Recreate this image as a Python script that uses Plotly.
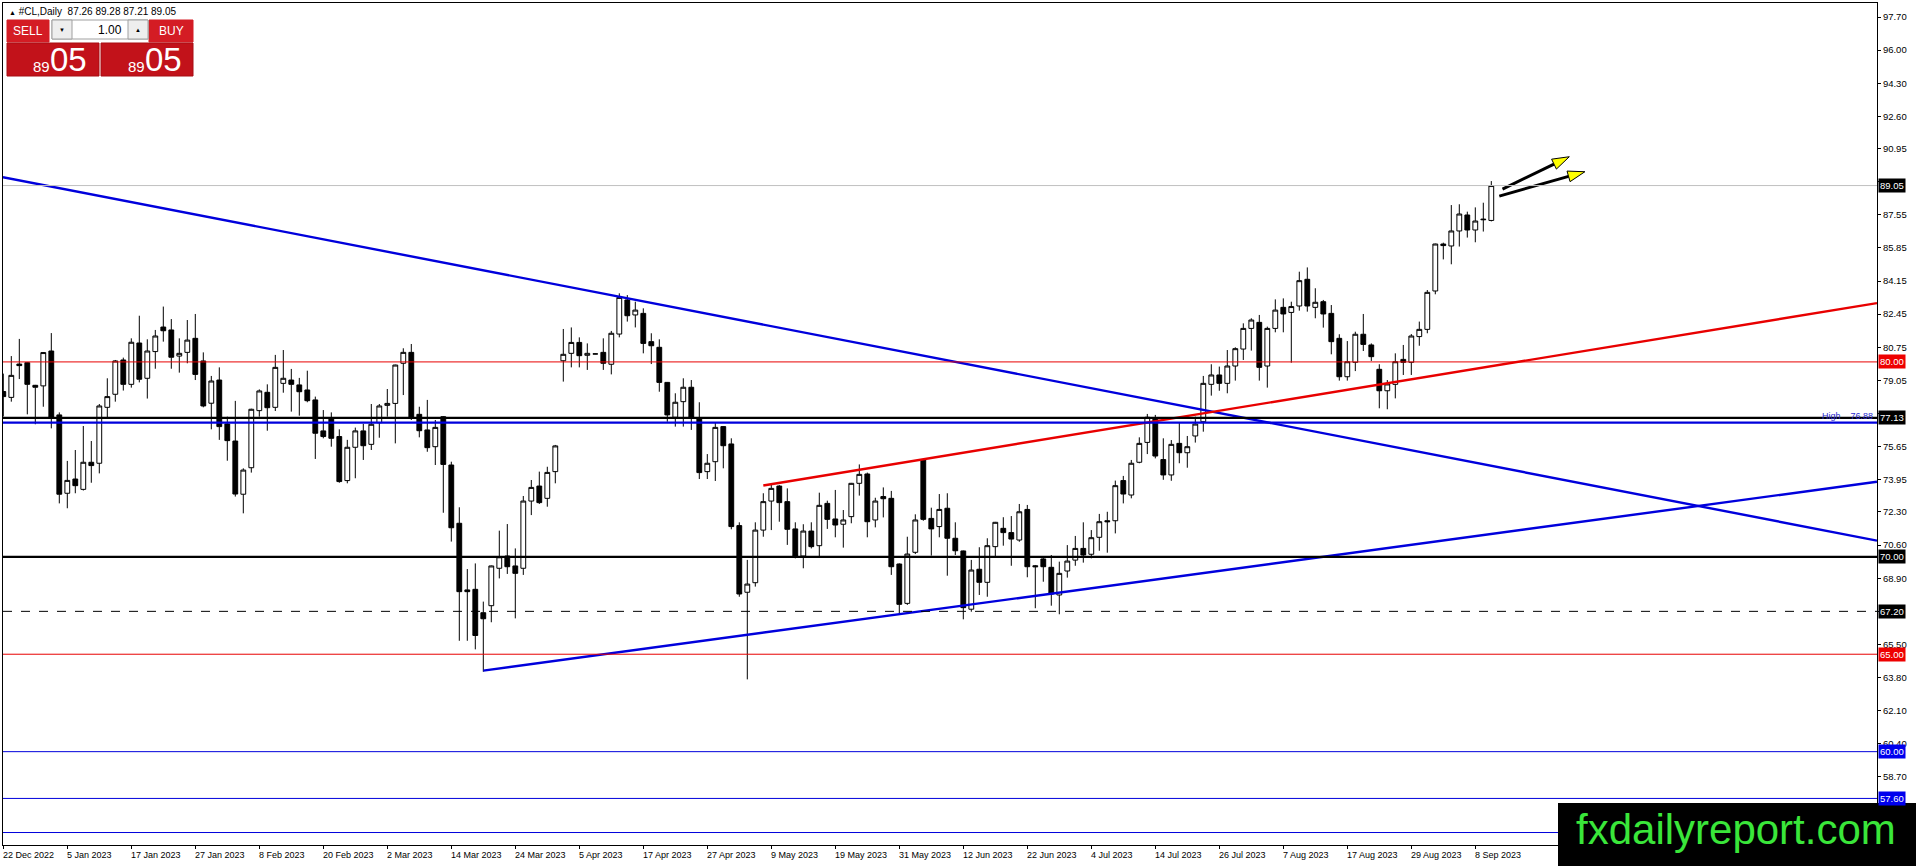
import math
import plotly.graph_objects as go

# ---------------- data ----------------
bar_index = list(range(187))

open_ = [78.48, 78.18, 79.89, 79.96, 78.80, 78.77, 80.56, 77.28, 73.26, 73.99,
         73.46, 74.85, 74.80, 77.67, 78.34, 80.10, 78.85, 80.97, 79.16, 80.53,
         81.79, 81.64, 80.30, 80.49, 81.21, 80.05, 77.88, 79.07, 76.82, 75.94,
         73.21, 74.57, 77.50, 78.44, 77.67, 78.90, 79.07, 78.82, 78.56, 78.05,
         76.46, 77.10, 76.17, 73.91, 75.62, 76.46, 75.77, 76.88, 77.77, 77.87,
         79.93, 80.49, 77.31, 76.51, 75.65, 77.19, 74.71, 71.72, 68.30, 68.33,
         67.13, 67.49, 69.41, 70.04, 69.53, 69.41, 72.86, 73.63, 73.00, 74.37,
         80.06, 80.44, 81.00, 80.34, 80.41, 80.49, 79.88, 81.43, 83.18, 82.41,
         82.49, 81.04, 80.75, 78.95, 77.16, 77.96, 78.70, 77.10, 74.37, 74.88,
         76.68, 75.79, 71.60, 68.18, 68.67, 71.37, 72.86, 73.63, 72.83, 71.43,
         70.04, 71.32, 70.57, 72.74, 71.94, 71.67, 72.06, 73.77, 74.25, 71.89,
         73.09, 73.00, 69.63, 67.61, 70.23, 74.97, 71.97, 71.55, 72.49, 70.95,
         70.30, 67.31, 69.36, 68.69, 70.52, 71.46, 71.24, 70.86, 72.43, 69.54,
         69.89, 69.46, 68.04, 69.27, 69.83, 70.43, 70.13, 71.00, 71.85, 71.85,
         73.91, 73.17, 74.85, 75.87, 77.07, 74.99, 74.20, 75.82, 75.34, 76.20,
         76.93, 78.85, 79.33, 78.90, 79.79, 80.66, 81.72, 82.03, 79.79, 81.72,
         82.80, 82.54, 82.87, 84.24, 82.80, 83.09, 82.49, 81.21, 79.24, 79.98,
         81.42, 80.87, 79.62, 78.52, 78.85, 80.13, 79.98, 81.30, 81.67, 83.64,
         86.05, 85.95, 86.72, 87.54, 86.77, 87.33, 87.26]

high = [79.40, 80.30, 81.18, 79.98, 78.82, 80.50, 81.48, 77.41, 74.92, 75.48,
        76.71, 75.94, 77.84, 79.16, 80.10, 80.22, 81.21, 82.37, 81.16, 81.64,
        82.84, 82.20, 81.21, 82.15, 82.46, 80.49, 79.28, 79.72, 77.19, 78.00,
        74.54, 77.60, 78.59, 78.85, 80.36, 80.61, 79.64, 79.18, 79.55, 78.22,
        77.53, 77.41, 76.54, 76.00, 76.63, 76.82, 77.84, 77.84, 78.61, 79.86,
        80.70, 80.92, 77.70, 78.05, 77.02, 77.22, 74.88, 72.54, 69.37, 69.66,
        67.70, 69.55, 71.34, 71.68, 70.43, 73.12, 73.94, 74.37, 74.62, 75.74,
        81.69, 81.77, 81.26, 80.95, 80.42, 81.21, 81.59, 83.52, 83.43, 83.09,
        82.75, 81.47, 81.16, 78.97, 78.39, 79.16, 79.07, 77.93, 75.27, 76.88,
        76.70, 76.08, 71.77, 69.84, 71.77, 73.26, 73.77, 73.68, 73.51, 71.77,
        71.67, 71.77, 73.29, 72.88, 73.43, 72.40, 73.79, 74.74, 74.32, 73.03,
        73.56, 73.38, 69.66, 71.03, 72.18, 75.00, 72.52, 73.22, 73.26, 71.77,
        70.32, 69.84, 70.49, 70.95, 71.79, 72.03, 72.09, 72.71, 72.66, 69.58,
        70.01, 70.09, 69.75, 70.60, 71.07, 71.77, 71.37, 72.20, 72.31, 73.91,
        74.15, 74.97, 76.13, 77.33, 77.28, 76.08, 75.99, 76.90, 76.20, 77.19,
        79.28, 79.88, 79.76, 80.61, 80.75, 81.98, 82.24, 82.41, 81.81, 83.21,
        83.26, 83.09, 84.63, 84.85, 83.78, 83.18, 82.92, 81.42, 81.07, 81.55,
        82.46, 80.95, 79.88, 79.07, 80.44, 80.87, 81.43, 82.07, 83.69, 86.07,
        86.12, 88.05, 88.09, 87.71, 87.93, 88.17, 89.28]

low = [77.20, 77.96, 79.12, 77.31, 76.80, 77.70, 76.59, 72.74, 72.49, 73.26,
       73.40, 73.80, 74.28, 77.16, 77.96, 78.53, 78.68, 78.95, 78.12, 79.65,
       81.04, 79.65, 79.45, 79.93, 79.07, 77.67, 76.54, 76.00, 74.93, 73.09,
       72.23, 74.32, 77.19, 76.47, 77.48, 78.42, 77.45, 77.24, 77.93, 75.02,
       76.08, 75.65, 73.80, 73.77, 74.03, 74.97, 75.48, 76.11, 77.19, 75.82,
       78.30, 77.02, 76.13, 75.39, 74.71, 72.26, 70.78, 65.69, 65.69, 65.25,
       64.10, 66.64, 68.89, 69.12, 66.84, 69.07, 72.14, 72.71, 72.57, 73.77,
       78.99, 79.72, 79.72, 79.59, 80.40, 79.59, 79.36, 81.26, 82.07, 81.77,
       80.44, 79.89, 78.47, 76.93, 76.68, 76.68, 76.51, 73.99, 73.99, 73.89,
       74.54, 71.41, 67.95, 63.71, 68.47, 71.03, 71.37, 71.80, 70.61, 69.92,
       69.41, 70.43, 70.04, 71.43, 71.00, 70.47, 71.72, 73.14, 71.00, 71.51,
       72.02, 69.07, 67.10, 67.53, 70.14, 71.85, 70.06, 71.00, 69.03, 70.09,
       66.79, 67.18, 68.04, 67.95, 69.97, 70.57, 69.54, 70.77, 68.95, 67.36,
       68.72, 67.49, 67.05, 68.93, 69.54, 69.70, 69.92, 70.31, 70.21, 71.20,
       72.74, 73.00, 74.80, 75.27, 75.05, 73.95, 73.90, 74.80, 74.57, 75.86,
       76.42, 78.27, 78.52, 78.39, 79.04, 80.10, 80.58, 79.04, 78.68, 81.52,
       81.52, 79.96, 82.63, 82.58, 82.24, 81.76, 80.39, 79.04, 79.04, 79.53,
       80.56, 80.05, 77.62, 77.57, 78.13, 79.33, 79.33, 80.83, 81.47, 83.47,
       85.26, 85.01, 85.92, 86.38, 86.14, 86.69, 87.21]

close = [78.22, 79.31, 79.81, 78.85, 78.70, 80.48, 77.16, 73.21, 73.92, 73.65,
         74.85, 74.68, 77.74, 78.22, 80.05, 78.85, 81.01, 79.11, 80.56, 81.33,
         81.60, 80.24, 80.44, 81.12, 79.36, 77.74, 79.02, 76.68, 75.96, 73.22,
         74.45, 77.57, 78.51, 77.65, 79.72, 79.16, 78.85, 78.47, 78.01, 76.34,
         76.17, 76.08, 73.86, 75.62, 76.46, 75.70, 76.80, 77.74, 77.87, 79.84,
         80.49, 77.10, 76.47, 75.60, 76.64, 74.74, 71.49, 68.21, 68.21, 65.96,
         66.82, 69.53, 70.00, 69.49, 69.15, 72.86, 73.56, 72.78, 74.33, 75.69,
         80.39, 81.00, 80.32, 80.44, 80.41, 79.93, 81.47, 83.31, 82.37, 82.66,
         80.95, 80.83, 78.95, 77.28, 77.93, 78.70, 77.14, 74.32, 74.80, 76.64,
         75.70, 71.55, 68.09, 68.60, 71.37, 72.83, 73.51, 72.78, 71.41, 70.04,
         71.32, 70.52, 72.64, 71.92, 71.63, 71.89, 73.77, 74.23, 71.80, 72.86,
         72.98, 69.49, 67.56, 70.14, 71.89, 71.92, 71.43, 72.43, 70.95, 70.31,
         67.39, 69.32, 68.69, 70.57, 71.77, 71.24, 70.91, 72.31, 69.49, 69.49,
         69.49, 68.09, 69.15, 69.78, 70.43, 70.09, 70.98, 71.80, 71.80, 73.65,
         73.22, 74.80, 75.82, 77.16, 75.17, 74.20, 75.77, 75.34, 75.65, 76.81,
         78.90, 79.33, 78.90, 79.79, 80.68, 81.72, 82.15, 79.72, 81.72, 82.66,
         82.46, 82.84, 84.17, 82.87, 83.06, 82.46, 81.04, 79.24, 80.01, 81.42,
         80.90, 80.27, 78.52, 78.87, 80.01, 79.98, 81.33, 81.67, 83.57, 86.05,
         85.97, 86.72, 87.59, 86.77, 87.23, 87.30, 89.05]

tick_bars = [0, 8, 16, 24, 32, 40, 48, 56, 64, 72, 80, 88, 96, 104, 112, 120,
             128, 136, 144, 152, 160, 168, 176, 184]
tick_dates = ["22 Dec 2022", "5 Jan 2023", "17 Jan 2023", "27 Jan 2023",
              "8 Feb 2023", "20 Feb 2023", "2 Mar 2023", "14 Mar 2023",
              "24 Mar 2023", "5 Apr 2023", "17 Apr 2023", "27 Apr 2023",
              "9 May 2023", "19 May 2023", "31 May 2023", "12 Jun 2023",
              "22 Jun 2023", "4 Jul 2023", "14 Jul 2023", "26 Jul 2023",
              "7 Aug 2023", "17 Aug 2023", "29 Aug 2023", "8 Sep 2023"]

price_ticks = [97.70, 96.00, 94.30, 92.60, 90.95, 89.25, 87.55, 85.85, 84.15,
               82.45, 80.75, 79.05, 77.35, 75.65, 73.95, 72.30, 70.60, 68.90,
               67.20, 65.50, 63.80, 62.10, 60.40, 58.70, 57.00]
# tick labels that sit fully under a price tag / the watermark in the reference
price_ticks_hidden = [89.25, 77.35, 67.20, 57.00]

header_symbol = "#CL,Daily"
header_ohlc = [87.26, 89.28, 87.21, 89.05]
lot_size = "1.00"
sell_price = ["89", "05"]
buy_price = ["89", "05"]

RED = "#e80000"
BLUE = "#0000dc"

level_prices = [89.05, 80.00, 77.13, 76.88, 70.00, 67.20, 65.00, 60.00, 57.60, 55.85]
level_colors = ["#c0c0c0", RED, "#000000", BLUE, "#000000", "#000000", RED, BLUE, BLUE, BLUE]
level_widths = [1, 1, 2.2, 2.2, 2.2, 1, 1, 1, 1, 1]
level_dashes = ["solid", "solid", "solid", "solid", "solid", "dash", "solid", "solid", "solid", "solid"]
level_tagged = [True, True, True, False, True, True, True, True, True, False]
level_tag_bg = ["#000000", "#ee0000", "#000000", None, "#000000", "#000000", "#ee0000", "#0000ee", "#0000ee", None]

# trend lines: (bar index, price) at each end
desc_line_x = [-0.05, 234.21]
desc_line_y = [89.48, 70.83]
asc_blue_x = [60.0, 234.21]
asc_blue_y = [64.16, 73.85]
asc_red_x = [95.0, 234.21]
asc_red_y = [73.66, 83.02]

arrow_tail_x = [187.4, 187.0]
arrow_tail_y = [88.87, 88.51]
arrow_tip_x = [195.75, 197.7]
arrow_tip_y = [90.53, 89.76]

# ---------------- geometry ----------------
W, H = 1916, 866
ML, MR, MT, MB = 3, 39, 3, 21
PW, PH = W - ML - MR, H - MT - MB
PX_BAR = 8.0
PX_USD = 19.487
X0 = -0.0375
Y0 = 55.21
XR = [X0, X0 + PW / PX_BAR]
YR = [Y0, Y0 + PH / PX_USD]
FONT = "Liberation Sans, Arial, sans-serif"


def pp(X, Y):
    """pixel (from top-left of page) -> paper coords"""
    return (X - ML) / PW, (H - MB - Y) / PH


fig = go.Figure()

fig.add_trace(go.Candlestick(
    x=bar_index, open=open_, high=high, low=low, close=close,
    increasing=dict(line=dict(color="black", width=1), fillcolor="white"),
    decreasing=dict(line=dict(color="black", width=1), fillcolor="black"),
    whiskerwidth=0, hoverinfo="skip", showlegend=False,
))

for lx, ly, col in [(desc_line_x, desc_line_y, BLUE),
                    (asc_blue_x, asc_blue_y, BLUE),
                    (asc_red_x, asc_red_y, RED)]:
    fig.add_trace(go.Scatter(x=lx, y=ly, mode="lines",
                             line=dict(color=col, width=2.4),
                             hoverinfo="skip", showlegend=False))

# arrows (shaft black, head yellow with black outline)
HEAD_L, HEAD_W = 17.0, 5.5
for tx, ty, hx, hy in zip(arrow_tail_x, arrow_tail_y, arrow_tip_x, arrow_tip_y):
    dx = (hx - tx) * PX_BAR
    dy = (hy - ty) * PX_USD
    ln = math.hypot(dx, dy)
    ux, uy = dx / ln, dy / ln
    nx, ny = -uy, ux
    bx, by = hx - HEAD_L * ux / PX_BAR, hy - HEAD_L * uy / PX_USD
    fig.add_trace(go.Scatter(x=[tx, bx], y=[ty, by], mode="lines",
                             line=dict(color="black", width=3),
                             hoverinfo="skip", showlegend=False))
    v1 = (bx + HEAD_W * nx / PX_BAR, by + HEAD_W * ny / PX_USD)
    v2 = (bx - HEAD_W * nx / PX_BAR, by - HEAD_W * ny / PX_USD)
    fig.add_trace(go.Scatter(x=[hx, v1[0], v2[0], hx], y=[hy, v1[1], v2[1], hy],
                             mode="lines", fill="toself", fillcolor="#ffff00",
                             line=dict(color="black", width=1),
                             hoverinfo="skip", showlegend=False))

shapes = []
annotations = []

# horizontal levels
for p, c, w, d, tagged, bg in zip(level_prices, level_colors, level_widths,
                                  level_dashes, level_tagged, level_tag_bg):
    shapes.append(dict(type="line", xref="paper", yref="y", x0=0, x1=1, y0=p, y1=p,
                       line=dict(color=c, width=w, dash=d), layer="above"))
    if tagged:
        annotations.append(dict(xref="paper", yref="y", x=1, y=p, xanchor="left",
                                yanchor="middle", xshift=1, text=f"{p:.2f}",
                                showarrow=False, bgcolor=bg, borderpad=1,
                                font=dict(color="white", size=9.5, family=FONT)))

annotations.append(dict(xref="paper", yref="y", x=1, y=level_prices[3], xanchor="right",
                        yanchor="bottom", xshift=-2, yshift=0,
                        text=f"High&nbsp;&nbsp;&nbsp;&nbsp;{level_prices[3]:.2f}",
                        showarrow=False, font=dict(color="#2b2bd0", size=9, family=FONT)))

# time labels (left aligned at bar, like MT4)
for b, t in zip(tick_bars, tick_dates):
    annotations.append(dict(xref="x", yref="paper", x=b, y=0, xanchor="left",
                            yanchor="top", xshift=-2, yshift=-3, text=t,
                            showarrow=False, font=dict(size=9, color="black", family=FONT)))

# header
x, y = pp(7, 11)
annotations.append(dict(xref="paper", yref="paper", x=x, y=y, xanchor="left", yanchor="middle",
                        text="<span style='font-size:7px'>▲</span> " + header_symbol + "&nbsp;&nbsp;"
                        + " ".join(f"{v:.2f}" for v in header_ohlc),
                        showarrow=False, font=dict(size=10, color="black", family=FONT)))

# trade panel
def rect(X1, Y1, X2, Y2, fill, line=None):
    a, b = pp(X1, Y2)
    c, d = pp(X2, Y1)
    shapes.append(dict(type="rect", xref="paper", yref="paper", x0=a, y0=b, x1=c, y1=d,
                       fillcolor=fill, line=dict(color=line or fill, width=1), layer="above"))

rect(7, 20, 49, 42, "#d41c24")
rect(149, 20, 193, 42, "#d41c24")
rect(7, 43, 99, 76, "#c2121a", "#a80c12")
rect(101, 43, 193, 76, "#c2121a", "#a80c12")
rect(52, 20, 148, 39, "#ffffff", "#a0a0a0")
rect(52, 20, 72, 39, "#eeeeee", "#a0a0a0")
rect(128, 20, 148, 39, "#eeeeee", "#a0a0a0")


def txt(X, Y, s, size, color="white", anchor="center"):
    a, b = pp(X, Y)
    annotations.append(dict(xref="paper", yref="paper", x=a, y=b, xanchor=anchor, yanchor="middle",
                            text=s, showarrow=False, font=dict(size=size, color=color, family=FONT)))

txt(28, 31, "SELL", 12)
txt(171, 31, "BUY", 12)
txt(62, 30, "▼", 6, "black")
txt(138, 30, "▲", 6, "black")
txt(124, 30, lot_size, 12, "black", "right")
txt(41.5, 66, sell_price[0], 15)
txt(68.5, 59, sell_price[1], 33)
txt(136, 66, buy_price[0], 15)
txt(163.5, 59, buy_price[1], 33)

# watermark
a, b = pp(1558, 866)
c, d = pp(1916, 803)
shapes.append(dict(type="rect", xref="paper", yref="paper", x0=a, y0=b, x1=c, y1=d,
                   fillcolor="black", line=dict(color="black", width=0), layer="above"))
txt(1736, 829, "fxdailyreport.com", 42, "#3ae63a")

fig.update_layout(
    width=W, height=H,
    margin=dict(l=ML, r=MR, t=MT, b=MB, pad=0),
    paper_bgcolor="white", plot_bgcolor="white",
    font=dict(family=FONT, size=10, color="black"),
    showlegend=False, hovermode=False,
    boxgap=0.4, boxgroupgap=0,
    shapes=shapes, annotations=annotations,
    xaxis=dict(range=XR, showgrid=False, zeroline=False, showline=True, mirror=True,
               linecolor="black", linewidth=1, tickvals=tick_bars, showticklabels=False,
               ticks="outside", ticklen=3, tickcolor="black", rangeslider=dict(visible=False),
               fixedrange=True),
    yaxis=dict(range=YR, side="right", showgrid=False, zeroline=False, showline=True,
               mirror=True, linecolor="black", linewidth=1, tickvals=price_ticks,
               ticktext=["" if v in price_ticks_hidden else f"{v:.2f}" for v in price_ticks],
               ticks="outside", ticklen=3,
               tickcolor="black", tickfont=dict(size=9.5, family=FONT, color="black"),
               fixedrange=True),
)

fig.write_html("out.html", config={"displayModeBar": False},
               post_script="document.body.style.margin='0';document.body.style.overflow='hidden';")
